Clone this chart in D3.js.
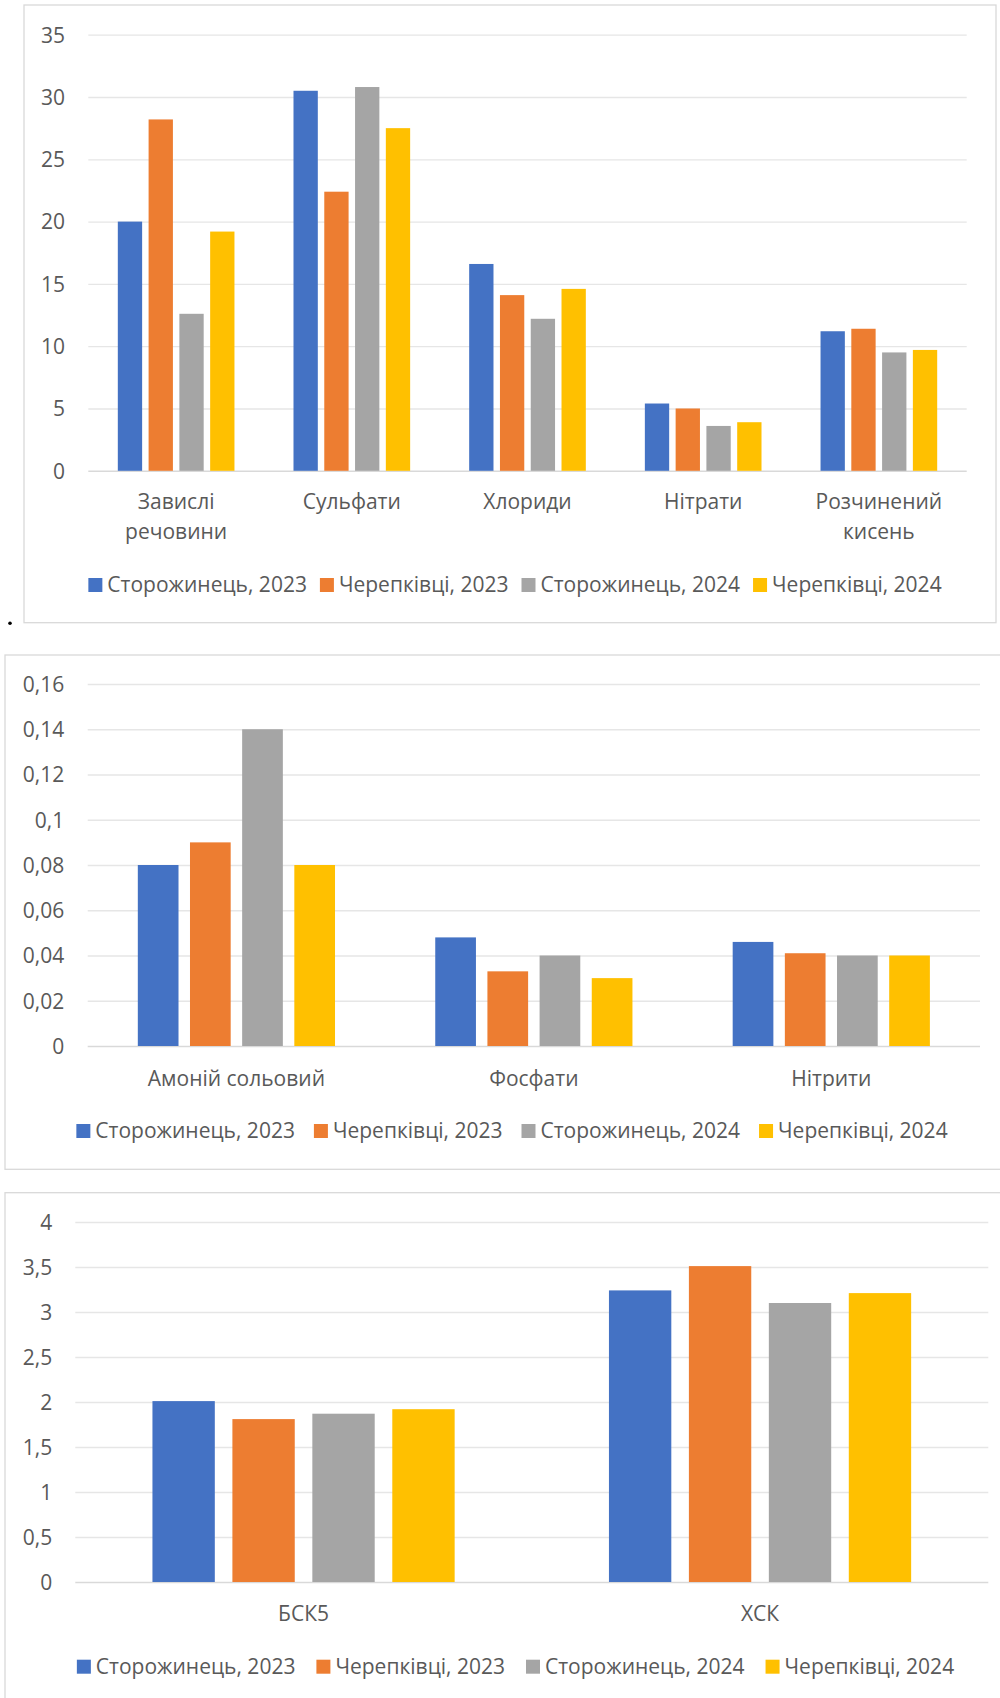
<!DOCTYPE html>
<html>
<head>
<meta charset="utf-8">
<script src="https://cdn.jsdelivr.net/npm/d3@7"></script>
<style>
  html, body { margin: 0; padding: 0; background: #fff; }
  svg { display: block; }
  text { font-family: "Open Sans", "Noto Sans", sans-serif; fill: #595959; }
</style>
</head>
<body>
<svg id="chart" width="1000" height="1698"></svg>
<script>
// ---------- DATA ----------
const seriesNames = ["Сторожинець, 2023", "Черепківці, 2023", "Сторожинець, 2024", "Черепківці, 2024"];
const seriesColors = ["#4472C4", "#ED7D31", "#A5A5A5", "#FFC000"];

const categories1 = [["Завислі", "речовини"], ["Сульфати"], ["Хлориди"], ["Нітрати"], ["Розчинений", "кисень"]];
const values1 = [
  [20.0, 30.5, 16.6, 5.4, 11.2],   // Сторожинець, 2023
  [28.2, 22.4, 14.1, 5.0, 11.4],   // Черепківці, 2023
  [12.6, 30.8, 12.2, 3.6, 9.5],    // Сторожинець, 2024
  [19.2, 27.5, 14.6, 3.9, 9.7]     // Черепківці, 2024
];
const ticks1 = [0, 5, 10, 15, 20, 25, 30, 35];

const categories2 = [["Амоній сольовий"], ["Фосфати"], ["Нітрити"]];
const values2 = [
  [0.08, 0.048, 0.046],
  [0.09, 0.033, 0.041],
  [0.14, 0.040, 0.040],
  [0.08, 0.030, 0.040]
];
const ticks2 = [0, 0.02, 0.04, 0.06, 0.08, 0.1, 0.12, 0.14, 0.16];

const categories3 = [["БСК5"], ["ХСК"]];
const values3 = [
  [2.01, 3.24],
  [1.81, 3.51],
  [1.87, 3.10],
  [1.92, 3.21]
];
const ticks3 = [0, 0.5, 1, 1.5, 2, 2.5, 3, 3.5, 4];

// ---------- DRAW ----------
const svg = d3.select("#chart");
const fmt = v => String(+v.toFixed(3)).replace(".", ",");
const FS = 21;

function drawChart(cfg) {
  const g = svg.append("g");
  // frame
  g.append("rect")
    .attr("x", cfg.frame[0]).attr("y", cfg.frame[1])
    .attr("width", cfg.frame[2] - cfg.frame[0]).attr("height", cfg.frame[3] - cfg.frame[1])
    .attr("fill", "none").attr("stroke", "#d9d9d9").attr("stroke-width", 1.3);

  const y = d3.scaleLinear().domain([0, d3.max(cfg.ticks)]).range([cfg.plot.bottom, cfg.plot.top]);
  const x0 = d3.scaleBand().domain(d3.range(cfg.categories.length))
    .range([cfg.plot.left, cfg.plot.right]).paddingInner(0).paddingOuter(0);
  const groupW = x0.bandwidth() * cfg.groupFrac;
  const x1 = d3.scaleBand().domain(d3.range(seriesNames.length))
    .range([0, groupW]).paddingInner(cfg.barPad).paddingOuter(0);

  // grid
  const yAxis = d3.axisLeft(y).tickValues(cfg.ticks).tickSize(-(cfg.plot.right - cfg.plot.left)).tickFormat(fmt).tickPadding(0);
  const ax = g.append("g").attr("transform", `translate(${cfg.plot.left},0)`).call(yAxis);
  ax.select(".domain").remove();
  ax.selectAll(".tick line").attr("stroke", d => d === 0 ? "#d9d9d9" : "#e6e6e6").attr("stroke-width", d => d === 0 ? 1.6 : 1.3);
  ax.selectAll(".tick text")
    .attr("x", cfg.tickX - cfg.plot.left)
    .attr("dy", "0.35em")
    .attr("text-anchor", "end")
    .style("font-size", FS + "px")
    .style("font-family", '"Open Sans", sans-serif')
    .attr("fill", "#595959");

  // bars
  seriesNames.forEach((s, si) => {
    g.append("g").selectAll("rect")
      .data(cfg.values[si])
      .join("rect")
      .attr("x", (d, ci) => x0(ci) + (x0.bandwidth() - groupW) / 2 + x1(si))
      .attr("width", x1.bandwidth())
      .attr("y", d => y(d))
      .attr("height", d => y(0) - y(d))
      .attr("fill", seriesColors[si]);
  });

  // category labels
  cfg.categories.forEach((lines, ci) => {
    const t = g.append("text")
      .attr("x", x0(ci) + x0.bandwidth() / 2)
      .attr("y", cfg.catY)
      .attr("text-anchor", "middle")
      .style("font-size", FS + "px");
    lines.forEach((ln, li) => {
      t.append("tspan").attr("x", x0(ci) + x0.bandwidth() / 2)
        .attr("dy", li === 0 ? "0.35em" : cfg.lineH + "px").text(ln);
    });
  });

  // legend
  const lg = g.append("g");
  const items = seriesNames.map((s, si) => {
    const it = lg.append("g");
    it.append("rect").attr("width", 14).attr("height", 14).attr("y", cfg.legendY - 7).attr("fill", seriesColors[si]);
    const tx = it.append("text").attr("x", 19).attr("y", cfg.legendY).attr("dy", "0.35em")
      .style("font-size", FS + "px").text(s);
    return { it, w: 19 + tx.node().getComputedTextLength() };
  });
  const gap = cfg.legendGap;
  const total = d3.sum(items, d => d.w) + gap * (items.length - 1);
  let cx = cfg.legendCX - total / 2;
  items.forEach(d => { d.it.attr("transform", `translate(${cx},0)`); cx += d.w + gap; });
}

drawChart({
  frame: [24, 5, 996, 622.7],
  plot: { left: 88.3, right: 966.7, top: 34.7, bottom: 470.8 },
  ticks: ticks1, values: values1, categories: categories1,
  groupFrac: 0.664, barPad: 0.21,
  tickX: 65, catY: 501.7, lineH: 30,
  legendY: 585, legendCX: 515, legendGap: 13
});

drawChart({
  frame: [5, 655, 1010, 1169.3],
  plot: { left: 87.7, right: 980, top: 684, bottom: 1046 },
  ticks: ticks2, values: values2, categories: categories2,
  groupFrac: 0.663, barPad: 0.22,
  tickX: 64.3, catY: 1078.6, lineH: 30,
  legendY: 1131, legendCX: 512, legendGap: 19
});

drawChart({
  frame: [5, 1192.7, 1010, 1710],
  plot: { left: 75.3, right: 988.3, top: 1222, bottom: 1582 },
  ticks: ticks3, values: values3, categories: categories3,
  groupFrac: 0.662, barPad: 0.22,
  tickX: 52.3, catY: 1613.3, lineH: 30,
  legendY: 1666.7, legendCX: 515.5, legendGap: 21
});

// stray bullet dot between charts
svg.append("circle").attr("cx", 10).attr("cy", 623.3).attr("r", 1.8).attr("fill", "#000");
</script>
</body>
</html>
